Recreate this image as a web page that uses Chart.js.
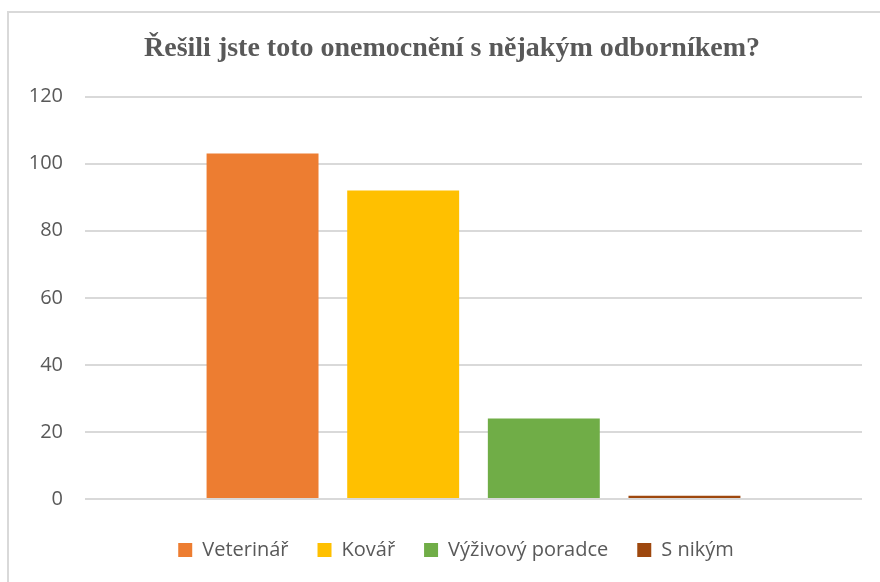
<!DOCTYPE html>
<html lang="cs">
<head>
<meta charset="utf-8">
<script src="https://cdn.jsdelivr.net/npm/chart.js@4"></script>
<style>
  html, body { margin: 0; padding: 0; background: #fff; overflow: hidden; }
  #wrap { position: relative; width: 880px; height: 582px; }
  #frame {
    position: absolute; left: 7px; top: 11px; width: 900px; height: 600px;
    border: 2px solid #d9d9d9; box-sizing: border-box;
  }
  #chart { position: absolute; left: 0; top: 0; }
</style>
</head>
<body>
<div id="wrap">
  <div id="frame"></div>
  <canvas id="chart" width="880" height="582"></canvas>
</div>
<script>
/* ----------------------------------------------------------- */
/* DATA                                                          */
/* ----------------------------------------------------------- */
const chartTitle = 'Řešili jste toto onemocnění s nějakým odborníkem?';
const groupLabels = [''];
const seriesNames = ['Veterinář', 'Kovář', 'Výživový poradce', 'S nikým'];
const seriesValues = [103, 92, 24, 1];
const seriesColors = ['#ED7D31', '#FFC000', '#70AD47', '#9E480E'];
const yTicks = [0, 20, 40, 60, 80, 100, 120];

/* ----------------------------------------------------------- */
/* CHART                                                         */
/* ----------------------------------------------------------- */
(function () {
  'use strict';

  const textGray = '#595959';
  const gridGray = '#d9d9d9';

  const datasets = seriesNames.map((name, i) => ({
    label: name,
    data: [seriesValues[i]],
    backgroundColor: seriesColors[i],
    borderWidth: 0,
    categoryPercentage: 0.724,
    barPercentage: 0.796
  }));

  // title and legend sit a bit right of the canvas centre in the original
  const nudgeBoxes = {
    id: 'nudgeBoxes',
    afterLayout(chart) {
      const t = chart.titleBlock, l = chart.legend;
      if (t) { t.left += 11; t.right += 11; }
      if (l) { l.left += 15; l.right += 15; }
    }
  };

  new Chart(document.getElementById('chart').getContext('2d'), {
    type: 'bar',
    data: { labels: groupLabels, datasets: datasets },
    options: {
      responsive: false,
      animation: false,
      layout: { padding: { left: 20, right: 18, top: 0, bottom: 12 } },
      scales: {
        x: {
          grid: { display: false },
          border: { display: false },
          ticks: { display: false },
          afterFit: s => { s.height = 12; }
        },
        y: {
          min: yTicks[0],
          max: yTicks[yTicks.length - 1],
          afterBuildTicks: s => { s.ticks = yTicks.map(v => ({ value: v })); },
          grid: { color: gridGray, lineWidth: 2, drawTicks: false },
          border: { display: false },
          ticks: {
            color: textGray,
            padding: 22,
            font: { family: "'Open Sans', sans-serif", size: 20 },
            callback: v => String(v)
          },
          afterFit: s => { s.width = 65; }
        }
      },
      plugins: {
        title: {
          display: true,
          text: chartTitle,
          color: textGray,
          font: { family: "'Liberation Serif', 'Times New Roman', serif", size: 28, weight: 'bold' },
          padding: { top: 32, bottom: 31 }
        },
        legend: {
          position: 'bottom',
          labels: {
            color: textGray,
            boxWidth: 14,
            boxHeight: 14,
            padding: 29,
            font: { family: "'Open Sans', sans-serif", size: 20 }
          }
        },
        tooltip: { enabled: false }
      }
    },
    plugins: [nudgeBoxes]
  });
})();
</script>
</body>
</html>
